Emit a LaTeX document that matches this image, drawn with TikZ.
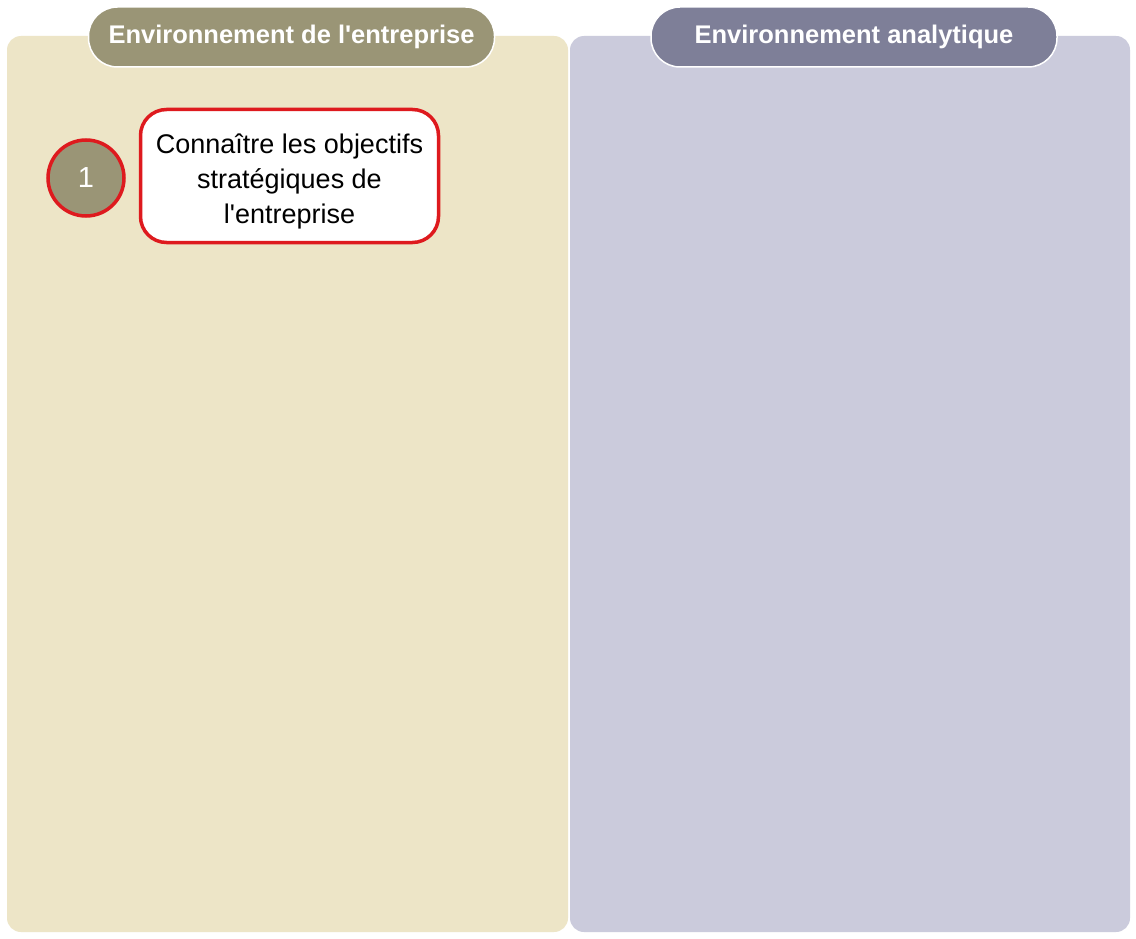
\documentclass[tikz,border=0pt]{standalone}
\usepackage{fontspec}
\setmainfont{Liberation Sans}
\newfontfamily\headfont{Liberation Sans}
\definecolor{leftbg}{HTML}{EDE5C7}
\definecolor{rightbg}{HTML}{CBCBDC}
\definecolor{lefthead}{HTML}{9A9576}
\definecolor{righthead}{HTML}{7E7F98}
\definecolor{redline}{HTML}{DE1A1E}
\begin{document}
\begin{tikzpicture}[x=1pt,y=-1pt,
  panel/.style={rounded corners=14pt},
  headbox/.style={draw=white,line width=1.5pt,rounded corners=29pt,minimum height=60pt,text=white,font=\headfont\bfseries\fontsize{25.5}{30}\selectfont,inner sep=0pt},
  numcircle/.style={circle,draw=redline,line width=3.5pt,fill=lefthead,minimum size=76pt,text=white,font=\fontsize{29}{32}\selectfont,inner sep=0pt},
  stepbox/.style={draw=redline,line width=3.5pt,fill=white,rounded corners=26pt,minimum width=298pt,minimum height=133pt},
  steptext/.style={align=center,font=\fontsize{27}{35}\selectfont,inner sep=0pt}
  ]
\useasboundingbox (0,0) rectangle (1136,939);
\fill[white] (0,0) rectangle (1136,939);
\fill[leftbg,panel] (7,36) rectangle (568,932);
\fill[rightbg,panel] (570,36) rectangle (1130,932);
\node[headbox,fill=lefthead,minimum width=406pt] (h1) at (291.5,37) {Environnement de l\textquotesingle entreprise};
\node[headbox,fill=righthead,minimum width=406pt] (h2) at (854,37) {Environnement analytique};
\node[numcircle] (n1) at (86,178) {1};
\node[stepbox,label={[steptext,yshift=-5pt]center:Connaître les objectifs\\stratégiques de\\l\textquotesingle entreprise}] (s1) at (289.5,176) {};
\end{tikzpicture}
\end{document}
